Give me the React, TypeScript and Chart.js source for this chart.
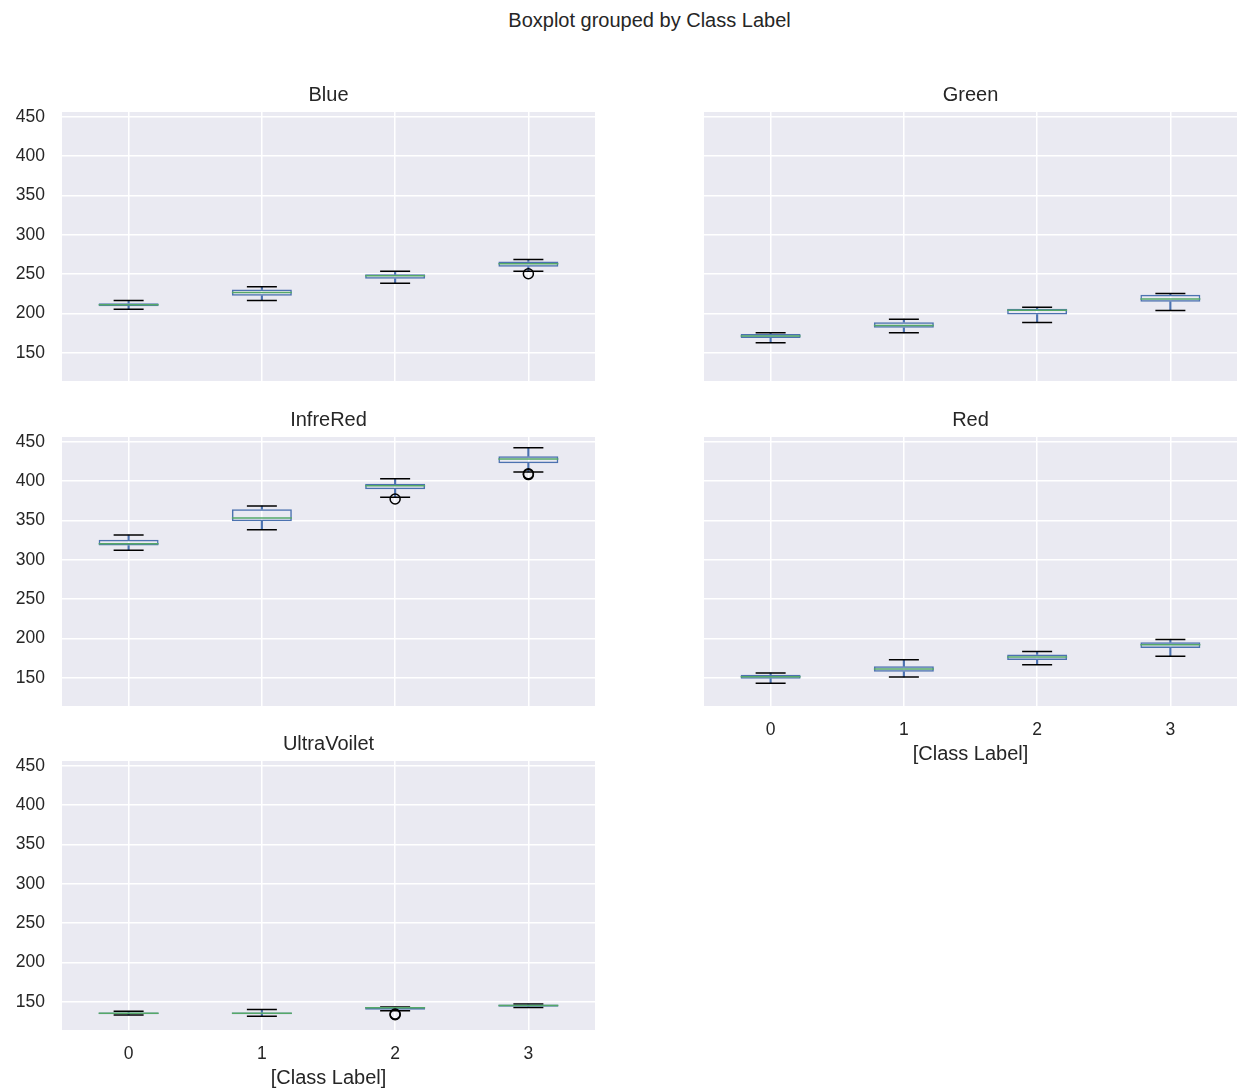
import React, { useEffect, useRef } from "react";
import { Chart, registerables } from "chart.js";

Chart.register(...registerables);

const FONT = '"Liberation Sans", Arial, "DejaVu Sans", sans-serif';
const TEXT = "#262626";
const FACE = "#EAEAF2";
const GRID = "#FFFFFF";
const BOX_BLUE = "#4C72B0";
const MEDIAN_GREEN = "#55A868";
const CAP_BLACK = "#000000";

const SUPTITLE = "Boxplot grouped by Class Label";
const X_TITLE = "[Class Label]";
const CLASS_LABELS = ["0", "1", "2", "3"];
const Y_TICKS = [150, 200, 250, 300, 350, 400, 450];
const Y_MIN = 114;
const Y_MAX = 456;

// Per class: [lower whisker, Q1, median, Q3, upper whisker]
const BLUE_STATS = [
  [205.3, 209.1, 211.1, 212.9, 216.2],
  [216.2, 222.5, 226.4, 230.3, 233.9],
  [238.2, 244.0, 247.8, 249.6, 253.4],
  [253.4, 259.3, 263.1, 266.0, 268.6],
];
const BLUE_OUTLIERS = [[], [], [], [250.4]];

const GREEN_STATS = [
  [162.7, 168.6, 171.1, 173.6, 175.3],
  [175.3, 181.6, 184.5, 188.7, 192.6],
  [188.4, 198.5, 204.0, 205.7, 207.8],
  [203.5, 214.8, 218.1, 223.6, 225.3],
];
const GREEN_OUTLIERS = [[], [], [], []];

const INFRERED_STATS = [
  [312.0, 317.9, 320.4, 325.5, 331.4],
  [338.2, 348.9, 353.1, 364.1, 368.3],
  [379.3, 389.5, 394.1, 396.6, 403.0],
  [411.5, 422.5, 428.0, 431.4, 442.4],
];
const INFRERED_OUTLIERS = [[], [], [377.2], [409.3, 408.2]];

const RED_STATS = [
  [142.8, 148.7, 151.3, 153.8, 156.0],
  [150.9, 157.6, 161.0, 164.4, 172.9],
  [166.5, 172.5, 176.3, 179.6, 183.4],
  [177.1, 187.7, 191.9, 194.9, 198.7],
];
const RED_OUTLIERS = [[], [], [], []];

const ULTRAVOILET_STATS = [
  [133.2, 134.0, 135.3, 136.3, 137.8],
  [131.5, 134.0, 135.3, 136.3, 140.0],
  [138.6, 139.6, 142.4, 143.1, 143.1],
  [142.5, 143.5, 145.3, 146.5, 147.0],
];
const ULTRAVOILET_OUTLIERS = [[], [], [134.2, 133.4], []];

// Subplot grid geometry (pixels)
const COL_LEFT = [62, 704];
const ROW_TOP = [112, 437, 761];
const PLOT_W = 533;
const PLOT_H = 269;
const TITLE_H = 30;
const Y_AXIS_W = 62;
const X_AXIS_H = 70;

type Panel = {
  title: string;
  stats: number[][];
  outliers: number[][];
  col: number;
  row: number;
  showY: boolean;
  showX: boolean;
};

const PANELS: Panel[] = [
  { title: "Blue", stats: BLUE_STATS, outliers: BLUE_OUTLIERS, col: 0, row: 0, showY: true, showX: false },
  { title: "Green", stats: GREEN_STATS, outliers: GREEN_OUTLIERS, col: 1, row: 0, showY: false, showX: false },
  { title: "InfreRed", stats: INFRERED_STATS, outliers: INFRERED_OUTLIERS, col: 0, row: 1, showY: true, showX: false },
  { title: "Red", stats: RED_STATS, outliers: RED_OUTLIERS, col: 1, row: 1, showY: false, showX: true },
  { title: "UltraVoilet", stats: ULTRAVOILET_STATS, outliers: ULTRAVOILET_OUTLIERS, col: 0, row: 2, showY: true, showX: true },
];

const plotBackground = {
  id: "plotBackground",
  beforeDraw(chart: any) {
    const { ctx, chartArea } = chart;
    ctx.save();
    ctx.fillStyle = FACE;
    ctx.fillRect(chartArea.left, chartArea.top, chartArea.width, chartArea.height);
    ctx.restore();
  },
};

function buildConfig(p: Panel): any {
  const yW = p.showY ? Y_AXIS_W : 0;
  const xH = p.showX ? X_AXIS_H : 0;
  const outlierPoints = p.outliers.flatMap((vals, i) =>
    vals.map((v) => ({ x: CLASS_LABELS[i], y: v }))
  );
  const capStyle = {
    type: "line",
    showLine: false,
    pointStyle: "line",
    pointRadius: 15,
    pointBorderColor: CAP_BLACK,
    pointBorderWidth: 1.5,
    order: 3,
  };
  return {
    type: "bar",
    data: {
      labels: CLASS_LABELS,
      datasets: [
        {
          type: "bar",
          data: p.stats.map((s) => [s[0], s[1]]),
          backgroundColor: BOX_BLUE,
          borderWidth: 0,
          barThickness: 1.5,
          grouped: false,
          order: 6,
        },
        {
          type: "bar",
          data: p.stats.map((s) => [s[3], s[4]]),
          backgroundColor: BOX_BLUE,
          borderWidth: 0,
          barThickness: 1.5,
          grouped: false,
          order: 6,
        },
        { ...capStyle, data: p.stats.map((s) => s[0]) },
        { ...capStyle, data: p.stats.map((s) => s[4]) },
        {
          type: "bar",
          data: p.stats.map((s) => [s[1], s[3]]),
          backgroundColor: "rgba(0,0,0,0)",
          borderColor: BOX_BLUE,
          borderWidth: 1.5,
          borderSkipped: false,
          barPercentage: 0.45,
          categoryPercentage: 1,
          grouped: false,
          order: 2,
        },
        {
          type: "line",
          data: p.stats.map((s) => s[2]),
          showLine: false,
          pointStyle: "line",
          pointRadius: 30,
          pointBorderColor: MEDIAN_GREEN,
          pointBorderWidth: 1.5,
          order: 1,
        },
        {
          type: "line",
          data: outlierPoints,
          showLine: false,
          pointStyle: "circle",
          pointRadius: 5,
          pointBorderColor: CAP_BLACK,
          pointBackgroundColor: "rgba(0,0,0,0)",
          pointBorderWidth: 1.5,
          order: 0,
        },
      ],
    },
    options: {
      responsive: false,
      animation: false,
      events: [],
      layout: { autoPadding: false, padding: { left: 0, right: 1, top: 0, bottom: 0 } },
      plugins: {
        legend: { display: false },
        tooltip: { enabled: false },
        title: {
          display: true,
          text: p.title,
          fullSize: false,
          color: TEXT,
          font: { family: FONT, size: 20, weight: "normal", lineHeight: 1.2 },
          padding: { top: 1, bottom: 5 },
        },
      },
      scales: {
        x: {
          type: "category",
          offset: true,
          grid: { color: GRID, lineWidth: 1.5, offset: false, drawTicks: false },
          border: { display: false },
          ticks: {
            display: p.showX,
            color: TEXT,
            font: { family: FONT, size: 17.5, lineHeight: 1.2 },
            padding: 13.5,
            maxRotation: 0,
            autoSkip: false,
          },
          title: {
            display: p.showX,
            text: X_TITLE,
            color: TEXT,
            font: { family: FONT, size: 20, lineHeight: 1.2 },
            padding: { top: 0, bottom: 10 },
          },
          afterFit: (s: any) => {
            s.height = xH;
            s.paddingLeft = 0;
            s.paddingRight = 0;
          },
        },
        y: {
          type: "linear",
          min: Y_MIN,
          max: Y_MAX,
          afterBuildTicks: (s: any) => {
            s.ticks = Y_TICKS.map((v) => ({ value: v }));
          },
          grid: { color: GRID, lineWidth: 1.5, drawTicks: false },
          border: { display: false },
          ticks: {
            display: p.showY,
            color: TEXT,
            font: { family: FONT, size: 17.5 },
            padding: 17,
          },
          afterFit: (s: any) => {
            s.width = yW;
            s.paddingTop = 0;
            s.paddingBottom = 0;
          },
        },
      },
    },
    plugins: [plotBackground],
  };
}

function BoxPanel({ panel }: { panel: Panel }) {
  const ref = useRef<HTMLCanvasElement>(null);
  const yW = panel.showY ? Y_AXIS_W : 0;
  const xH = panel.showX ? X_AXIS_H : 0;
  const width = yW + PLOT_W + 1;
  const height = TITLE_H + PLOT_H + xH;

  useEffect(() => {
    if (!ref.current) return;
    const chart = new Chart(ref.current, buildConfig(panel));
    return () => chart.destroy();
  }, [panel]);

  return (
    <canvas
      ref={ref}
      width={width}
      height={height}
      style={{
        position: "absolute",
        left: COL_LEFT[panel.col] - yW,
        top: ROW_TOP[panel.row] - TITLE_H,
        width,
        height,
      }}
    />
  );
}

export default function App() {
  return (
    <div
      style={{
        position: "absolute",
        left: 0,
        top: 0,
        width: 1238,
        height: 1089,
        background: "#FFFFFF",
        overflow: "hidden",
      }}
    >
      <div
        style={{
          position: "absolute",
          left: (COL_LEFT[0] + COL_LEFT[1] + PLOT_W) / 2,
          top: 20,
          transform: "translate(-50%, -50%)",
          fontFamily: FONT,
          fontSize: 20,
          color: TEXT,
          whiteSpace: "nowrap",
        }}
      >
        {SUPTITLE}
      </div>
      {PANELS.map((p) => (
        <BoxPanel key={p.title} panel={p} />
      ))}
    </div>
  );
}
